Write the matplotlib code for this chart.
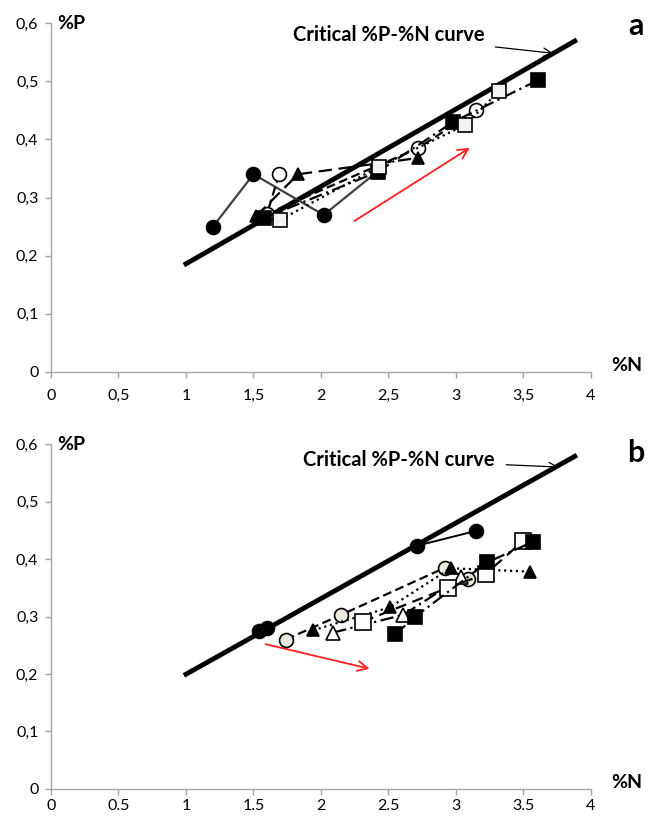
import matplotlib
matplotlib.use("Agg")
import matplotlib.pyplot as plt
import numpy as np

plt.rcParams['font.family'] = ['Lato', 'DejaVu Sans']

# panel a data (%N, %P)
a_circ_fill_n = [1.20, 1.50, 2.02, 2.42]
a_circ_fill_p = [0.25, 0.34, 0.27, 0.345]
a_circ_open_n = [1.69, 1.60, 2.72, 3.15]
a_circ_open_p = [0.34, 0.272, 0.385, 0.45]
a_tri_n = [1.52, 1.83, 2.72]
a_tri_p = [0.268, 0.34, 0.368]
a_sq_fill_n = [1.58, 2.42, 2.98, 3.61]
a_sq_fill_p = [0.265, 0.344, 0.43, 0.502]
a_sq_open_n = [1.70, 2.43, 3.07, 3.32]
a_sq_open_p = [0.262, 0.353, 0.425, 0.483]

# panel b data
b_circ_fill_n = [1.54, 1.60, 2.71, 3.15]
b_circ_fill_p = [0.275, 0.28, 0.423, 0.449]
b_circ_grey_n = [1.74, 2.15, 2.92, 3.09]
b_circ_grey_p = [0.26, 0.303, 0.385, 0.365]
b_tri_fill_n = [1.94, 2.51, 2.96, 3.55]
b_tri_fill_p = [0.276, 0.316, 0.384, 0.378]
b_tri_open_n = [2.09, 2.61, 3.04]
b_tri_open_p = [0.272, 0.303, 0.368]
b_sq_open_n = [2.31, 2.94, 3.22, 3.50]
b_sq_open_p = [0.291, 0.35, 0.374, 0.432]
b_sq_fill_n = [2.55, 2.70, 3.23, 3.57]
b_sq_fill_p = [0.269, 0.30, 0.394, 0.43]

# critical curves (N range, intercept, slope)
crit_n = [1.0, 3.88]
crit_a = (0.053, 0.133)
crit_b = (0.068, 0.1316)

y_ticks = [0, 0.1, 0.2, 0.3, 0.4, 0.5, 0.6]
y_labels = ['0', '0,1', '0,2', '0,3', '0,4', '0,5', '0,6']
x_ticks = [0, 0.5, 1, 1.5, 2, 2.5, 3, 3.5, 4]
xa_labels = ['0', '0,5', '1', '1,5', '2', '2,5', '3', '3,5', '4']
xb_labels = ['0', '0.5', '1', '1.5', '2', '2.5', '3', '3.5', '4']

fig = plt.figure(figsize=(6.48, 8.17), dpi=100)
ax_a = fig.add_axes([0.0787, 0.5447, 0.8333, 0.4271])
ax_b = fig.add_axes([0.0787, 0.0343, 0.8333, 0.4222])


def style(ax, xlabels, xpad):
    ax.set_xlim(0, 4)
    ax.set_ylim(0, 0.6)
    for s in ['top', 'right']:
        ax.spines[s].set_visible(False)
    for s in ['left', 'bottom']:
        ax.spines[s].set_color('#a6a6a6')
        ax.spines[s].set_linewidth(1.0)
    ax.set_xticks(x_ticks)
    ax.set_xticklabels(xlabels)
    ax.set_yticks(y_ticks)
    ax.set_yticklabels(y_labels)
    ax.tick_params(colors='#a6a6a6', length=4, width=1, labelcolor='black', labelsize=11.5)
    ax.tick_params(axis='x', pad=xpad)
    ax.tick_params(axis='y', pad=5)
    ax.text(0.012, 0.6, '%P', transform=ax.get_yaxis_transform(), fontsize=14,
            fontweight='bold', va='center', ha='left')
    ax.text(4.15, 0.012, '%N', fontsize=14, fontweight='bold', va='center', ha='left', clip_on=False)


def series(ax, n, p, marker, fc, ls, lc='black', ms=10, lw=1.6):
    ax.plot(n, p, linestyle=ls, color=lc, lw=lw, marker=marker, markersize=ms,
            markerfacecolor=fc, markeredgecolor='black', markeredgewidth=1.2, zorder=4)


# panel a
style(ax_a, xa_labels, 8)
cn = np.array(crit_n)
ax_a.plot(cn, crit_a[0] + crit_a[1] * cn, color='black', lw=3.5, zorder=3)
series(ax_a, a_circ_fill_n, a_circ_fill_p, 'o', 'black', '-', lc='#404040')
series(ax_a, a_circ_open_n, a_circ_open_p, 'o', 'white', (0, (4, 2)))
series(ax_a, a_tri_n, a_tri_p, '^', 'black', (0, (6, 3)), ms=9)
series(ax_a, a_sq_fill_n, a_sq_fill_p, 's', 'black', (0, (6, 2, 1, 2)))
series(ax_a, a_sq_open_n, a_sq_open_p, 's', '#f2f2f2', ':')
ax_a.annotate('', xy=(3.12, 0.388), xytext=(2.23, 0.257),
              arrowprops=dict(arrowstyle='->', color='#ff2020', lw=1.3, mutation_scale=18))
ax_a.annotate('Critical %P-%N curve', xy=(3.72, 0.548), xytext=(2.50, 0.579),
              fontsize=14.5, fontweight='bold', ha='center', va='center',
              arrowprops=dict(arrowstyle='->', color='black', lw=0.9, mutation_scale=15,
                              shrinkA=6, shrinkB=0))
ax_a.text(4.33, 0.595, 'a', fontsize=22, fontweight='bold', ha='center', va='center', clip_on=False)

# panel b
style(ax_b, xb_labels, 3)
ax_b.plot(cn, crit_b[0] + crit_b[1] * cn, color='black', lw=3.5, zorder=3)
series(ax_b, b_circ_fill_n, b_circ_fill_p, 'o', 'black', '-', lw=1.4)
series(ax_b, b_circ_grey_n, b_circ_grey_p, 'o', '#ebe9df', (0, (4, 2)))
series(ax_b, b_tri_fill_n, b_tri_fill_p, '^', 'black', ':', ms=9)
series(ax_b, b_tri_open_n, b_tri_open_p, '^', 'white', (0, (6, 2, 1, 2)), ms=10)
series(ax_b, b_sq_open_n, b_sq_open_p, 's', 'white', (0, (5, 3)), ms=11)
series(ax_b, b_sq_fill_n, b_sq_fill_p, 's', 'black', (0, (6, 2, 1, 2)))
ax_b.annotate('', xy=(2.38, 0.208), xytext=(1.57, 0.253),
              arrowprops=dict(arrowstyle='->', color='#ff2020', lw=1.3, mutation_scale=18))
ax_b.annotate('Critical %P-%N curve', xy=(3.76, 0.56), xytext=(2.58, 0.572),
              fontsize=14.5, fontweight='bold', ha='center', va='center', annotation_clip=False,
              arrowprops=dict(arrowstyle='->', color='black', lw=0.9, mutation_scale=15,
                              shrinkA=6, shrinkB=0))
ax_b.text(4.33, 0.585, 'b', fontsize=22, fontweight='bold', ha='center', va='center', clip_on=False)

fig.savefig('out.png', dpi=100)
